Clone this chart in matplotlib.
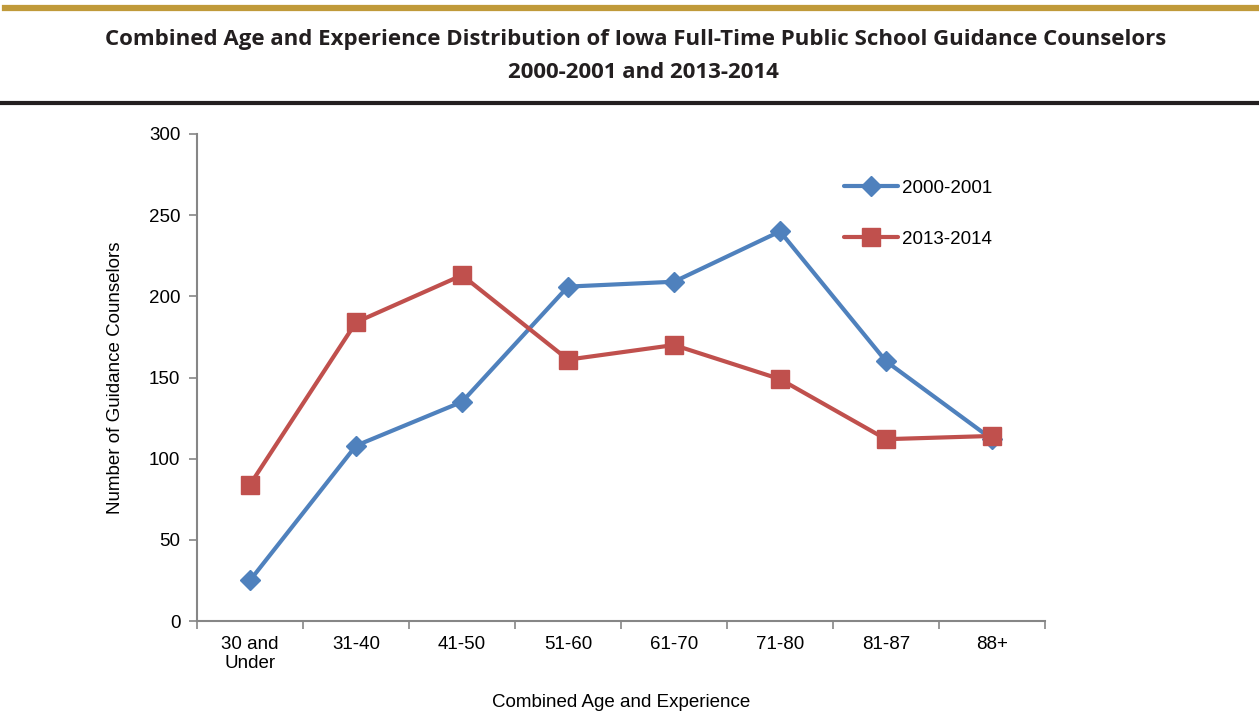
import numpy as np
import matplotlib
matplotlib.use("Agg")
import matplotlib.pyplot as plt
from matplotlib.lines import Line2D

categories = ["30 and\nUnder", "31-40", "41-50", "51-60", "61-70", "71-80", "81-87", "88+"]
counts_2000 = [25, 108, 135, 206, 209, 240, 160, 112]
counts_2013 = [84, 184, 213, 161, 170, 149, 112, 114]
series_names = ["2000-2001", "2013-2014"]

BLUE = "#4F81BD"
RED = "#C0504D"
GREY = "#868686"

plt.rcParams["font.family"] = ["Liberation Sans", "DejaVu Sans"]

fig = plt.figure(figsize=(12.59, 7.17), dpi=100)

# header rules and title
fig.add_artist(Line2D([0.004, 1.0], [1 - 8 / 717, 1 - 8 / 717], color="#C09A3A", linewidth=4.5))
fig.add_artist(Line2D([0.0, 1.0], [1 - 103 / 717, 1 - 103 / 717], color="#231F20", linewidth=3))
fig.text(0.505, 1 - 40 / 717, "Combined Age and Experience Distribution of Iowa Full-Time Public School Guidance Counselors",
         ha="center", va="center", fontsize=16, fontweight="bold", family=["Open Sans", "DejaVu Sans"], color="#231F20")
fig.text(0.511, 1 - 72 / 717, "2000-2001 and 2013-2014",
         ha="center", va="center", fontsize=16, fontweight="bold", family=["Open Sans", "DejaVu Sans"], color="#231F20")

ax = fig.add_axes([197 / 1259, 1 - 621 / 717, (1045 - 197) / 1259, (621 - 134) / 717])
x = np.arange(len(categories))
ax.plot(x, counts_2000, color=BLUE, linewidth=3, marker="D", markersize=10, label=series_names[0], solid_capstyle="round")
ax.plot(x, counts_2013, color=RED, linewidth=3, marker="s", markersize=13, label=series_names[1], solid_capstyle="round")

ax.set_xlim(-0.5, len(categories) - 0.5)
ax.set_ylim(0, 300)
ax.set_yticks(np.arange(0, 301, 50))
ax.set_xticks(x)
ax.set_xticklabels(categories, fontsize=13.5, linespacing=1.15)
ax.set_xticks(np.arange(-0.5, len(categories), 1), minor=True)
ax.tick_params(axis="x", which="major", length=0, pad=11)
ax.tick_params(axis="x", which="minor", length=6, color=GREY, width=1.2, direction="out")
ax.tick_params(axis="y", length=6, color=GREY, width=1.2, labelsize=13.5, pad=6)

for side in ["top", "right"]:
    ax.spines[side].set_visible(False)
for side in ["left", "bottom"]:
    ax.spines[side].set_color(GREY)
    ax.spines[side].set_linewidth(1.5)

ax.set_xlabel("Combined Age and Experience", fontsize=13.5, labelpad=16)
ax.set_ylabel("Number of Guidance Counselors", fontsize=13.5, labelpad=18)

ax.legend(loc="upper left", bbox_to_anchor=(836 / 1259, 1 - 172 / 717), bbox_transform=fig.transFigure,
          frameon=False, fontsize=13.5, handlelength=2.9, handletextpad=0.2, labelspacing=1.8, borderaxespad=0)

plt.savefig("out.png", dpi=100)
